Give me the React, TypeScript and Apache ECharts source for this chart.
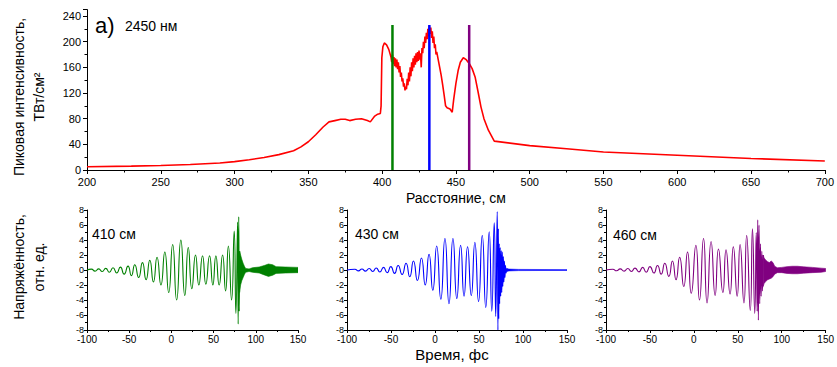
import React, { useEffect, useRef } from "react";
import * as echarts from "echarts";

// ---------- Top panel: peak intensity vs distance ----------
const intensityProfile: [number, number][] = [
  [200, 5], [230, 6], [250, 7], [270, 8.5], [290, 11], [300, 13], [310, 16], [320, 19.5],
  [330, 24], [340, 30], [345, 36], [350, 44], [355, 55], [360, 67], [364, 75], [368, 77],
  [372, 79], [375, 79], [378, 77], [382, 79], [386, 80], [390, 77], [392, 75], [395, 84],
  [397, 87], [398.8, 88], [399.3, 100], [399.8, 175], [400.5, 192], [401.5, 198], [403, 195],
  [404.5, 188], [406, 176], [406.5, 168], [407, 180], [407.5, 165], [408, 176], [408.5, 162],
  [409, 174], [409.5, 160], [410, 172], [410.5, 157], [411, 168], [411.5, 152], [412, 162],
  [412.5, 145], [413, 152], [413.5, 138], [414, 143], [414.5, 130], [415, 135], [415.5, 124],
  [416, 130], [416.5, 126], [417, 142], [417.5, 132], [418, 152], [418.5, 138], [419, 160],
  [419.5, 146], [420, 168], [420.5, 154], [421, 174], [421.5, 160], [422, 178], [422.5, 164],
  [423, 182], [423.5, 168], [424, 184], [424.5, 170], [425, 186], [425.5, 172], [426, 182],
  [426.5, 160], [427, 190], [427.5, 182], [428, 200], [428.5, 190], [429, 208], [429.5, 198],
  [430, 214], [430.5, 204], [431, 220], [431.5, 208], [432, 224], [432.5, 212], [433, 222],
  [433.5, 206], [434, 216], [434.5, 198], [435, 208], [435.5, 190], [436, 196], [436.5, 180],
  [437, 184], [438, 172], [439, 160], [440, 148], [441, 133], [442, 117], [443, 100],
  [444, 97], [446, 95], [447.5, 90], [448.5, 110], [450, 135], [451.5, 155], [453, 168],
  [455, 175], [457, 172], [459, 166], [461, 158], [463, 145], [465, 122], [467, 98],
  [469, 80], [472, 62], [476, 45], [500, 38], [525, 33], [550, 28], [600, 23], [650, 18],
  [700, 14],
];

const markerDistances = [407, 432, 459];
const markerTop = 226;
const markerColors = ["#008000", "#0000ff", "#800080"];
const panelLabels = ["410 см", "430 см", "460 см"];

// ---------- Bottom panels: field oscillation extrema (time fs, value) ----------
const greenField: [number, number][] = [
  [-100, 0], [-94.8, 0.12], [-90.5, -0.15], [-86.1, 0.15], [-82, -0.2], [-77.8, 0.22],
  [-73.5, -0.3], [-69.2, 0.3], [-64.8, -0.4], [-60.4, 0.38], [-56, -0.55], [-51.4, 0.52],
  [-47.4, -0.75], [-43.4, 0.7], [-38.8, -1.0], [-34.3, 0.98], [-30, -1.3], [-25.6, 1.3],
  [-21.3, -1.6], [-17, 1.7], [-12.4, -2.0], [-7.8, 2.4], [-3.2, -3.0], [1.5, 3.4],
  [6.2, -4.0], [11.2, 4.0], [15.9, -3.4], [20, 3.0], [24.2, -2.5], [28.6, 2.0],
  [32.5, -2.0], [36.9, 1.9], [40.8, -1.9], [45.2, 1.9], [49.1, -2.0], [52.7, 1.9],
  [56.6, -2.0], [60.6, 2.0], [64.2, -2.8], [67.5, 3.2], [71.3, -4.0], [74.4, 5.2],
  [76.4, -5.8], [78.4, 6.4], [79.1, -7.2], [79.8, 7.1], [80.4, -5.5], [80.9, 2.5],
];
const greenTailT = [80.8, 82, 83.5, 85, 86.5, 88, 92, 96, 104, 110, 115, 120, 124, 135, 150];
const greenTailHi = [2.5, 2.0, 1.4, 0.9, 0.5, 0.2, 0.15, 0.3, 0.4, 0.6, 0.8, 0.7, 0.45, 0.4, 0.35];
const greenTailLo = [-3.0, -2.0, -1.4, -1.0, -0.6, -0.3, -0.2, -0.3, -0.4, -0.65, -0.85, -0.7, -0.45, -0.4, -0.35];

const blueField: [number, number][] = [
  [-100, 0], [-91, 0.1], [-87, -0.12], [-83, 0.13], [-79, -0.15], [-74.8, 0.2],
  [-70.8, -0.2], [-66.8, 0.27], [-62.7, -0.27], [-58.5, 0.35], [-54.4, -0.35], [-50.2, 0.45],
  [-46, -0.45], [-41.9, 0.6], [-37.4, -0.6], [-32.9, 0.9], [-28.7, -0.9], [-24.5, 1.2],
  [-20, -1.4], [-15.4, 1.6], [-11.1, -2.0], [-6.8, 2.1], [-2.5, -2.7], [1.9, 3.2],
  [6.6, -3.9], [11.3, 4.2], [15.9, -4.5], [20.4, 4.2], [24.8, -3.8], [29.1, 3.3],
  [33, -3.5], [37, 3.1], [41.2, -3.4], [45.3, 3.7], [49.5, -4.2], [53.7, 4.6],
  [57.7, -5.0], [61.6, 5.1], [64.5, -5.5], [67.3, 6.3], [69, -6.2], [70.7, 7.8],
  [71.5, -8.0], [72, 5.5], [72.5, -6.5], [73, 3.5], [73.5, -4.5], [74.1, 3.0],
  [74.7, -3.5], [75.3, 2.6], [75.9, -3.0], [76.5, 2.4], [77.1, -2.2], [77.7, 1.8],
  [78.3, -1.6], [78.9, 1.2], [79.5, -1.0], [80.1, 0.6], [80.8, -0.4], [81.5, 0.2],
];
const blueTailT = [81.5, 84, 95, 150];
const blueTailHi = [0.2, 0.12, 0.08, 0.05];
const blueTailLo = [-0.2, -0.12, -0.08, -0.05];

const purpleField: [number, number][] = [
  [-100, 0], [-92.2, 0.1], [-88, -0.1], [-83.9, 0.15], [-79.4, -0.15], [-75.2, 0.2],
  [-71.1, -0.2], [-67, 0.25], [-62.5, -0.25], [-58.3, 0.35], [-54.2, -0.3], [-50, 0.45],
  [-45.5, -0.4], [-41.4, 0.6], [-37.2, -0.55], [-33.1, 0.9], [-28.5, -0.85], [-24.4, 1.2],
  [-20.3, -1.3], [-16.2, 1.7], [-11.5, -2.2], [-7.2, 2.4], [-3, -3.1], [2.3, 3.3],
  [6.4, -4.0], [11, 4.2], [15, -4.4], [19.6, 3.8], [24.2, -3.4], [28, 2.8],
  [33, -3.0], [36.6, 2.7], [41.2, -3.2], [44.9, 3.1], [49.3, -3.5], [52.6, 3.4],
  [57, -4.4], [60.1, 4.6], [64.2, -5.4], [66.7, 5.5], [69.3, -5.8], [71, 5.0],
  [72, -5.5], [72.7, 6.7], [73.4, -6.7], [74.2, 6.0], [75, -4.5], [75.8, 3.5],
  [76.6, -3.5], [77.4, 2.5], [78.2, -2.8], [78.9, 2.0],
];
const purpleTailT = [78.9, 80, 82, 84, 86, 88, 90, 92, 95, 100, 106, 112, 118, 125, 135, 145, 150];
const purpleTailHi = [2.0, 1.6, 1.3, 1.1, 1.0, 1.2, 1.0, 0.5, 0.3, 0.35, 0.45, 0.5, 0.5, 0.42, 0.35, 0.25, 0.2];
const purpleTailLo = [-2.2, -1.8, -1.5, -1.3, -1.2, -1.1, -0.9, -0.55, -0.35, -0.35, -0.45, -0.5, -0.5, -0.42, -0.35, -0.3, -0.2];

const FONT = "'Liberation Sans', Arial, sans-serif";

function bandSeries(idx: number, T: number[], HI: number[], LO: number[], color: string) {
  return {
    type: "custom",
    xAxisIndex: idx,
    yAxisIndex: idx,
    silent: true,
    clip: true,
    data: T.map((t, i) => [t, HI[i], LO[i]]),
    encode: { x: 0, y: [1, 2] },
    renderItem: (params: any, api: any) => {
      if (params.dataIndex !== 0) return null;
      const top = T.map((t, i) => api.coord([t, HI[i]]));
      const bot = T.map((t, i) => api.coord([t, LO[i]])).reverse();
      return {
        type: "polygon",
        shape: { points: top.concat(bot) },
        style: { fill: color, stroke: color, lineWidth: 0.6 },
      };
    },
  };
}

function fieldSeries(idx: number, data: [number, number][], color: string) {
  return {
    type: "line",
    xAxisIndex: idx,
    yAxisIndex: idx,
    data,
    showSymbol: false,
    smooth: 0.6,
    lineStyle: { color, width: 1.1 },
    silent: true,
  };
}

const axisLineCommon = { onZero: false, lineStyle: { color: "#000", width: 1 } };

export default function App() {
  const ref = useRef<HTMLDivElement>(null);
  useEffect(() => {
    if (!ref.current) return;
    const chart = echarts.init(ref.current, null, { renderer: "svg" });
    const smallX = (idx: number) => ({
      type: "value",
      gridIndex: idx,
      min: -100,
      max: 150,
      interval: 50,
      axisLine: axisLineCommon,
      splitLine: { show: false },
      axisTick: { show: true, length: 3, lineStyle: { color: "#000" } },
      minorTick: { show: true, splitNumber: 2, length: 2, lineStyle: { color: "#000" } },
      axisLabel: { fontSize: 10, color: "#000", margin: 4, fontFamily: FONT },
    });
    const smallY = (idx: number) => ({
      type: "value",
      gridIndex: idx,
      min: -8,
      max: 8,
      interval: 2,
      axisLine: axisLineCommon,
      splitLine: { show: false },
      axisTick: { show: true, length: 3, lineStyle: { color: "#000" } },
      minorTick: { show: true, splitNumber: 2, length: 2, lineStyle: { color: "#000" } },
      axisLabel: { fontSize: 9, color: "#000", margin: 3, fontFamily: FONT },
    });
    const option: any = {
      animation: false,
      grid: [
        { left: 87, top: 9.6, width: 739, height: 160.4 },
        { left: 87, top: 210, width: 211, height: 120 },
        { left: 347, top: 210, width: 220, height: 120 },
        { left: 606, top: 210, width: 221, height: 120 },
      ],
      xAxis: [
        {
          type: "value",
          gridIndex: 0,
          min: 200,
          max: 700,
          interval: 50,
          axisLine: axisLineCommon,
          splitLine: { show: false },
          axisTick: { show: true, length: 4, lineStyle: { color: "#000" } },
          minorTick: { show: true, splitNumber: 2, length: 2.5, lineStyle: { color: "#000" } },
          axisLabel: { fontSize: 11, color: "#000", margin: 6, fontFamily: FONT },
          name: "Расстояние, см",
          nameLocation: "middle",
          nameGap: 21,
          nameTextStyle: { fontSize: 14, color: "#000", fontFamily: FONT },
        },
        smallX(1),
        smallX(2),
        smallX(3),
      ],
      yAxis: [
        {
          type: "value",
          gridIndex: 0,
          min: 0,
          max: 250,
          interval: 40,
          axisLine: axisLineCommon,
          splitLine: { show: false },
          axisTick: { show: true, length: 4, lineStyle: { color: "#000" } },
          minorTick: { show: true, splitNumber: 2, length: 2.5, lineStyle: { color: "#000" } },
          axisLabel: {
            fontSize: 11,
            color: "#000",
            margin: 6,
            fontFamily: FONT,
            formatter: (v: number) => (v % 40 === 0 ? String(v) : ""),
          },
        },
        smallY(1),
        smallY(2),
        smallY(3),
      ],
      series: [
        {
          type: "line",
          xAxisIndex: 0,
          yAxisIndex: 0,
          data: intensityProfile,
          showSymbol: false,
          lineStyle: { color: "#ff0000", width: 1.6 },
          silent: true,
        },
        ...markerDistances.map((d, i) => ({
          type: "line",
          xAxisIndex: 0,
          yAxisIndex: 0,
          data: [
            [d, 0],
            [d, markerTop],
          ],
          showSymbol: false,
          lineStyle: { color: markerColors[i], width: 2.5 },
          silent: true,
        })),
        fieldSeries(1, greenField, markerColors[0]),
        bandSeries(1, greenTailT, greenTailHi, greenTailLo, markerColors[0]),
        fieldSeries(2, blueField, markerColors[1]),
        bandSeries(2, blueTailT, blueTailHi, blueTailLo, markerColors[1]),
        fieldSeries(3, purpleField, markerColors[2]),
        bandSeries(3, purpleTailT, purpleTailHi, purpleTailLo, markerColors[2]),
      ],
      graphic: [
        { type: "text", x: 95, y: 25, style: { text: "а)", font: `22px ${FONT}`, fill: "#000", textVerticalAlign: "middle", verticalAlign: "middle" } },
        { type: "text", x: 125, y: 26, style: { text: "2450 нм", font: `14px ${FONT}`, fill: "#000", textVerticalAlign: "middle", verticalAlign: "middle" } },
        { type: "text", x: 19, y: 97, rotation: Math.PI / 2, style: { text: "Пиковая интенсивность,", font: `14px ${FONT}`, fill: "#000", textAlign: "center", align: "center", textVerticalAlign: "middle", verticalAlign: "middle" } },
        { type: "text", x: 39, y: 97, rotation: Math.PI / 2, style: { text: "ТВт/см²", font: `14px ${FONT}`, fill: "#000", textAlign: "center", align: "center", textVerticalAlign: "middle", verticalAlign: "middle" } },
        { type: "text", x: 19, y: 267, rotation: Math.PI / 2, style: { text: "Напряжённость,", font: `14px ${FONT}`, fill: "#000", textAlign: "center", align: "center", textVerticalAlign: "middle", verticalAlign: "middle" } },
        { type: "text", x: 39, y: 267, rotation: Math.PI / 2, style: { text: "отн. ед.", font: `14px ${FONT}`, fill: "#000", textAlign: "center", align: "center", textVerticalAlign: "middle", verticalAlign: "middle" } },
        { type: "text", x: 452, y: 354, style: { text: "Время, фс", font: `15px ${FONT}`, fill: "#000", textAlign: "center", align: "center", textVerticalAlign: "middle", verticalAlign: "middle" } },
        { type: "text", x: 92, y: 234, style: { text: panelLabels[0], font: `14px ${FONT}`, fill: "#000", textVerticalAlign: "middle", verticalAlign: "middle" } },
        { type: "text", x: 355, y: 234, style: { text: panelLabels[1], font: `14px ${FONT}`, fill: "#000", textVerticalAlign: "middle", verticalAlign: "middle" } },
        { type: "text", x: 613, y: 235, style: { text: panelLabels[2], font: `14px ${FONT}`, fill: "#000", textVerticalAlign: "middle", verticalAlign: "middle" } },
      ],
    };
    chart.setOption(option);
    return () => chart.dispose();
  }, []);
  return (
    <div
      ref={ref}
      style={{ position: "fixed", left: 0, top: 0, width: 837, height: 367, background: "#fff" }}
    />
  );
}
